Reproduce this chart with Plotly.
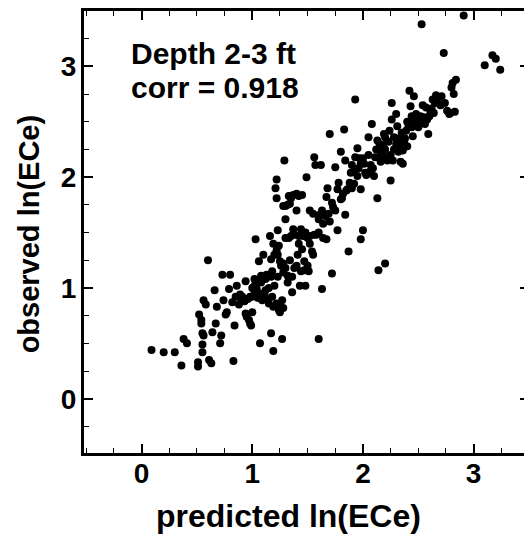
import plotly.graph_objects as go

pred = [0.09,0.20,0.30,0.36,0.38,0.41,0.51,0.51,0.52,0.54,0.54,0.55,0.55,0.55,0.56,0.56,0.58,0.60,0.61,0.63,
        0.64,0.66,0.67,0.68,0.71,0.72,0.73,0.74,0.76,0.77,0.79,0.80,0.82,0.83,0.84,0.85,0.86,0.88,0.89,0.91,
        0.94,0.94,0.95,0.97,0.98,0.99,1.00,1.00,1.02,1.03,1.04,1.04,1.05,1.06,1.07,1.08,1.09,1.10,1.11,1.12,
        1.14,1.15,1.16,1.17,1.17,1.18,1.19,1.19,1.20,1.21,1.22,1.22,1.23,1.23,1.24,1.25,1.25,1.27,1.27,1.28,
        1.29,1.30,1.32,1.32,1.33,1.34,1.35,1.36,1.37,1.38,1.40,1.41,1.42,1.43,1.44,1.45,1.46,1.47,1.48,1.49,
        1.50,1.51,1.52,1.54,1.55,1.56,1.57,1.58,1.60,1.61,1.62,1.63,1.64,1.64,1.67,1.67,1.69,1.70,1.72,1.73,
        1.75,1.77,1.77,1.80,1.81,1.83,1.84,1.86,1.87,1.89,1.90,1.92,1.93,1.93,1.95,1.95,1.97,1.98,1.98,2.00,
        2.01,2.02,2.04,2.05,2.07,2.08,2.10,2.11,2.13,2.13,2.14,2.16,2.16,2.18,2.19,2.20,2.21,2.23,2.24,2.25,
        2.26,2.27,2.28,2.30,2.31,2.32,2.33,2.34,2.36,2.37,2.39,2.40,2.42,2.43,2.44,2.45,2.46,2.48,2.49,2.51,
        2.53,2.54,2.55,2.57,2.59,2.61,2.63,2.65,2.66,2.68,2.71,2.73,2.74,2.78,2.80,2.81,2.83,2.84,2.91,3.10,
        3.17,3.20,3.24,
        1.30,1.35,1.38,1.42,1.48,1.52,1.56,1.60,1.33,1.37,1.40,1.30,1.34,1.28,
        1.20,1.22,1.26,1.28,1.30,1.18,1.15,1.12,1.08,1.05,1.02,0.98,0.96,0.93,0.90,1.22,1.25,1.28,1.24,1.10,
        1.00,1.02,1.13,1.17,1.19,1.23,1.32,1.36,1.40,1.44,1.47,1.50,1.45,1.52,1.55,1.42,
        1.60,1.63,1.66,1.70,1.75,1.80,1.82,1.85,1.88,1.90,1.92,1.96,1.98,2.03,2.06,2.09,2.12,2.15,2.17,2.20,
        2.22,2.25,2.28,2.30,2.32,2.35,2.38,2.41,2.44,2.46,2.50,2.52,2.56,2.58,2.60,2.62,2.64,2.70,2.76,2.79,
        2.82,2.26,2.20,2.18,2.36,2.40,2.05,2.00,1.78,1.72,1.68,1.84]

obs = [0.44,0.42,0.42,0.30,0.54,0.50,0.33,0.29,0.76,0.68,0.71,0.49,0.42,0.59,0.57,0.89,0.85,1.25,0.35,0.32,
       0.60,0.98,0.68,0.83,0.50,0.57,1.12,0.89,0.76,0.78,0.99,1.12,0.87,0.34,0.66,0.92,1.02,0.85,0.94,0.92,
       1.06,0.77,0.74,0.71,0.68,0.66,0.78,0.92,1.02,1.44,0.99,0.97,0.91,1.24,0.50,1.11,0.89,1.30,0.94,1.08,
       0.90,0.86,1.47,0.59,1.10,0.92,0.83,0.43,1.02,1.90,1.81,1.98,1.52,1.30,1.38,0.78,1.24,0.89,0.54,1.14,
       2.15,1.62,1.11,1.75,1.45,1.25,1.81,0.96,1.53,1.18,1.70,1.30,1.83,1.02,1.53,1.84,1.47,1.24,1.02,2.00,
       1.45,1.15,1.70,1.33,1.67,2.18,2.11,1.48,0.54,1.66,2.11,0.99,1.45,1.58,1.44,1.82,1.67,2.39,1.13,1.73,
       2.09,1.52,1.89,2.23,1.81,2.43,2.15,1.89,1.33,2.04,2.11,1.94,2.70,2.18,2.01,2.26,2.17,1.89,1.44,1.52,
       2.12,2.04,2.03,2.36,2.11,2.48,2.01,2.18,1.81,2.33,1.16,2.23,2.14,2.29,2.39,1.22,2.18,2.32,2.42,1.97,
       2.67,2.15,2.36,2.57,2.46,2.23,2.29,2.14,2.12,2.32,2.42,2.50,2.78,2.64,2.45,2.37,2.73,2.57,2.53,2.50,
       3.38,2.65,2.54,2.63,2.39,2.59,2.70,2.67,2.74,2.71,2.73,3.12,2.67,2.57,2.81,2.85,2.59,2.88,3.46,3.01,
       3.10,3.07,2.97,
       1.45,1.47,1.48,1.47,1.50,1.47,1.48,1.50,1.83,1.84,1.85,1.74,1.76,1.74,
       1.30,1.34,1.20,1.22,1.18,1.15,1.00,0.98,1.05,1.06,0.95,0.92,0.90,0.88,0.90,0.86,0.85,0.82,0.80,0.95,
       1.00,1.08,1.12,1.26,1.40,1.10,1.05,1.10,1.20,1.15,1.16,1.20,1.35,1.40,1.30,1.40,
       1.62,1.70,1.65,1.60,1.70,1.80,1.85,1.88,1.95,1.90,2.05,2.08,2.12,2.02,2.05,2.08,2.25,2.30,2.20,2.25,
       2.15,2.20,2.25,2.30,2.35,2.40,2.35,2.45,2.55,2.50,2.45,2.55,2.48,2.52,2.55,2.62,2.58,2.65,2.60,2.58,
       2.75,2.52,2.36,2.18,2.24,2.28,2.20,2.17,1.95,1.77,1.90,1.66]

x_ticks = [0, 1, 2, 3]
y_ticks = [0, 1, 2, 3]
label_depth = "Depth 2-3 ft"
label_corr = "corr = 0.918"

FONT = "Liberation Sans, Arial, Helvetica, sans-serif"
OFF = 8                      # page body margin
W, H = 532 - OFF, 541 - OFF
L, R, T, B = 76, 0, 3, 88
PW, PH = W - L - R, H - T - B

def px(xs):
    return (xs - OFF - L) / PW

def py(ys):
    return (H - B - (ys - OFF)) / PH

fig = go.Figure()
fig.add_trace(go.Scatter(
    x=pred, y=obs, mode="markers",
    marker=dict(size=8, color="black", line=dict(width=0)),
    showlegend=False, hoverinfo="skip",
))

axis_common = dict(
    showgrid=False, zeroline=False,
    showline=True, linewidth=3, linecolor="black",
    mirror="ticks", ticks="inside", ticklen=9, tickwidth=1.5, tickcolor="black",
    tickfont=dict(family=FONT, size=28, color="black", weight="bold"),
    minor=dict(dtick=0.25, tick0=0, ticks="inside", ticklen=5, tickwidth=1, tickcolor="black"),
)

fig.update_xaxes(range=[-0.52, 3.5], tickvals=x_ticks, ticktext=[str(v) for v in x_ticks],
                 ticklabelstandoff=-7, **axis_common)
fig.update_yaxes(range=[-0.49, 3.5], tickvals=y_ticks, ticktext=[str(v) for v in y_ticks],
                 ticklabelstandoff=-1, **axis_common)

ann_font = dict(family=FONT, size=30, color="black", weight="bold")
fig.add_annotation(text=label_depth, xref="paper", yref="paper", x=px(129), y=py(54),
                   xanchor="left", yanchor="middle", showarrow=False, font=ann_font)
fig.add_annotation(text=label_corr, xref="paper", yref="paper", x=px(129), y=py(87),
                   xanchor="left", yanchor="middle", showarrow=False, font=ann_font)
fig.add_annotation(text="predicted ln(ECe)", xref="paper", yref="paper", x=px(290), y=py(516),
                   xanchor="center", yanchor="middle", showarrow=False,
                   font=dict(family=FONT, size=32, color="black", weight="bold"))
fig.add_annotation(text="observed ln(ECe)", xref="paper", yref="paper", x=px(29), y=py(234),
                   xanchor="center", yanchor="middle", textangle=-90, showarrow=False,
                   font=dict(family=FONT, size=29, color="black", weight="bold"))

fig.update_layout(
    width=W, height=H,
    margin=dict(l=L, r=R, t=T, b=B, pad=0),
    paper_bgcolor="white", plot_bgcolor="white",
)

fig.write_html("out.html")
